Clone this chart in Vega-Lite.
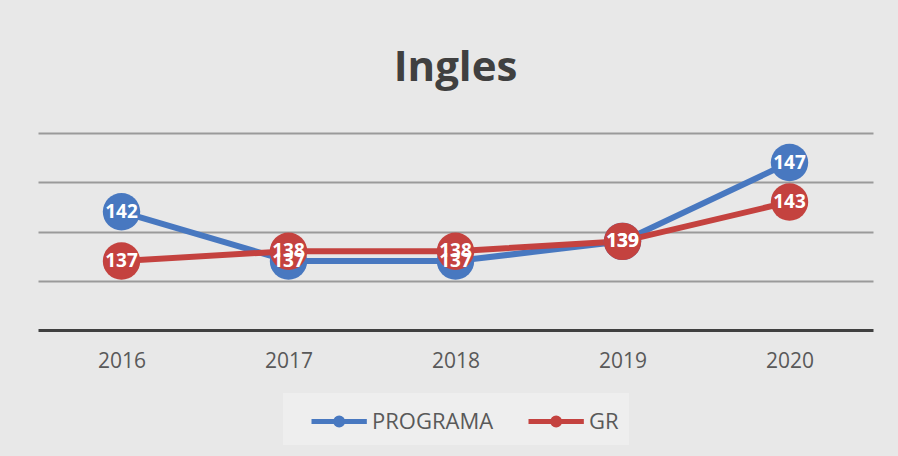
{
  "$schema": "https://vega.github.io/schema/vega-lite/v6.json",
  "autosize": "none",
  "width": 835,
  "height": 197,
  "padding": {"left": 38, "top": 133, "right": 25, "bottom": 126},
  "background": "#e8e8e8",
  "title": {
    "text": "Ingles",
    "fontSize": 42,
    "font": "Open Sans",
    "fontWeight": "bold",
    "color": "#404040",
    "anchor": "middle",
    "baseline": "alphabetic",
    "offset": 48,
    "dy": 38
  },
  "config": {
    "view": {"stroke": null},
    "font": "Open Sans"
  },
  "data": {
    "values": [
      {"year": "2016", "series": "PROGRAMA", "value": 142},
      {"year": "2017", "series": "PROGRAMA", "value": 137},
      {"year": "2018", "series": "PROGRAMA", "value": 137},
      {"year": "2019", "series": "PROGRAMA", "value": 139},
      {"year": "2020", "series": "PROGRAMA", "value": 147},
      {"year": "2016", "series": "GR", "value": 137},
      {"year": "2017", "series": "GR", "value": 138},
      {"year": "2018", "series": "GR", "value": 138},
      {"year": "2019", "series": "GR", "value": 139},
      {"year": "2020", "series": "GR", "value": 143}
    ]
  },
  "encoding": {
    "x": {
      "field": "year",
      "type": "ordinal",
      "scale": {"paddingInner": 0, "paddingOuter": 0.5},
      "axis": {
        "title": null,
        "labelAngle": 0,
        "labelFontSize": 21,
        "labelColor": "#595959",
        "labelPadding": 20,
        "ticks": false,
        "domainColor": "#404040",
        "domainWidth": 3,
        "grid": false
      }
    },
    "y": {
      "field": "value",
      "type": "quantitative",
      "scale": {"domain": [130, 150], "zero": false},
      "axis": {
        "title": null,
        "labels": false,
        "ticks": false,
        "domain": false,
        "values": [135, 140, 145, 150],
        "gridColor": "#9a9a9a",
        "gridWidth": 2
      }
    },
    "color": {
      "field": "series",
      "type": "nominal",
      "scale": {"domain": ["PROGRAMA", "GR"], "range": ["#4878c0", "#c4423f"]},
      "legend": {
        "title": null,
        "orient": "none",
        "legendX": 245,
        "legendY": 260,
        "direction": "horizontal",
        "labelFontSize": 22,
        "labelColor": "#595959",
        "symbolType": "M 0 0 L 3.5 0 M 1.53 0 A 0.22 0.22 0 1 1 1.97 0 A 0.22 0.22 0 1 1 1.53 0 Z",
        "symbolSize": 1000,
        "symbolStrokeWidth": 5,
        "labelOffset": 42,
        "columnPadding": 16,
        "padding": 10,
        "fillColor": "#eeeeee"
      }
    }
  },
  "layer": [
    {
      "mark": {"type": "line", "strokeWidth": 6},
      "encoding": {"detail": {"field": "series"}}
    },
    {
      "mark": {"type": "point", "shape": "circle", "filled": true, "opacity": 1, "size": 1400}
    },
    {
      "mark": {"type": "text", "color": "white", "fontSize": 19, "fontWeight": "bold", "font": "Open Sans"},
      "encoding": {
        "text": {"field": "value", "type": "quantitative"},
        "color": {"value": "white"}
      }
    }
  ]
}
